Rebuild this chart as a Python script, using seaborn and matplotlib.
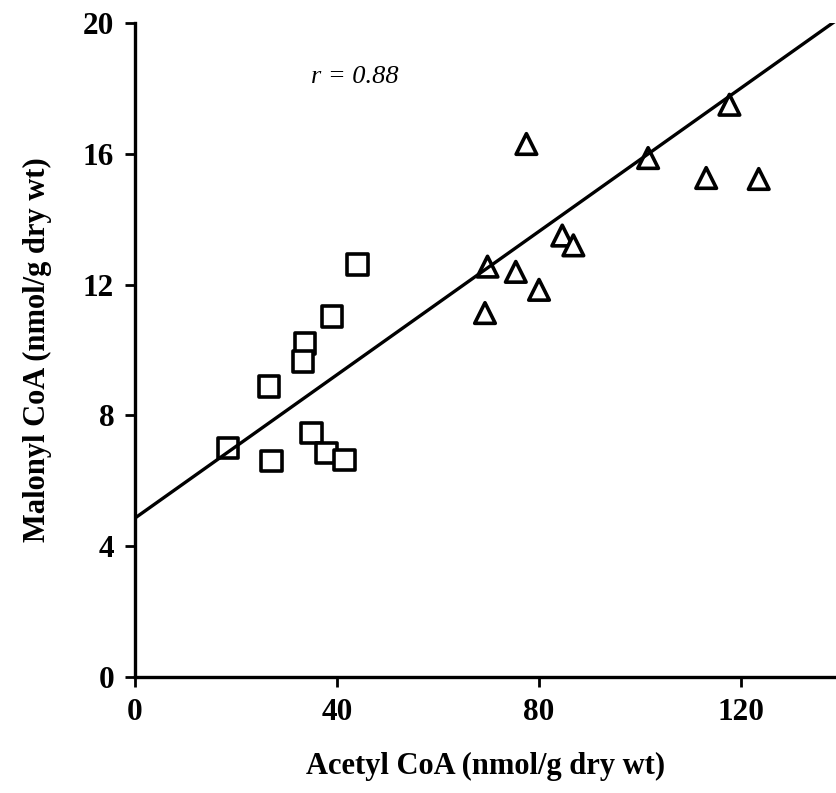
import numpy as np
import pandas as pd
import matplotlib
matplotlib.use("Agg")
import matplotlib.pyplot as plt
import seaborn as sns

# Acetyl CoA (x) and Malonyl CoA (y), nmol/g dry wt
square_x = [44.1, 39.0, 33.7, 33.3, 26.5, 18.4, 27.0, 34.9, 37.9, 41.5]
square_y = [12.62, 11.03, 10.19, 9.64, 8.88, 7.00, 6.60, 7.46, 6.85, 6.64]

triangle_x = [77.5, 101.6, 117.7, 113.1, 123.5, 84.6, 86.8, 69.8, 75.4, 80.0, 69.3]
triangle_y = [16.30, 15.87, 17.50, 15.26, 15.23, 13.50, 13.20, 12.55, 12.39, 11.84, 11.13]

# Fitted regression line
fit_intercept = 4.86
fit_slope = 0.1096
fit_x = [0, 139]

x_ticks = [0, 40, 80, 120]
y_ticks = [0, 4, 8, 12, 16, 20]

sns.set_style("ticks")
plt.rcParams["font.family"] = ["Liberation Serif", "DejaVu Serif"]
plt.rcParams.update({
    "text.color": "black",
    "axes.labelcolor": "black",
    "axes.edgecolor": "black",
    "xtick.color": "black",
    "ytick.color": "black",
})

df = pd.DataFrame({
    "acetyl": square_x + triangle_x,
    "malonyl": square_y + triangle_y,
    "group": ["square"] * len(square_x) + ["triangle"] * len(triangle_x),
})

fig = plt.figure(figsize=(8.37, 7.93), dpi=100)
ax = fig.add_axes([135 / 837, 116 / 793, 702 / 837, 654 / 793])

sns.scatterplot(data=df, x="acetyl", y="malonyl", style="group",
                markers={"square": "s", "triangle": "^"},
                s=220, facecolor="white", edgecolor="black",
                linewidth=2.6, legend=False, ax=ax, zorder=2)

line_y = [fit_intercept + fit_slope * v for v in fit_x]
ax.plot(fit_x, line_y, color="black", linewidth=2.4, zorder=3, solid_capstyle="butt")

ax.set_xlim(0, 139)
ax.set_ylim(0, 20)
ax.set_xticks(x_ticks)
ax.set_yticks(y_ticks)

for side in ["top", "right"]:
    ax.spines[side].set_visible(False)
for side in ["left", "bottom"]:
    ax.spines[side].set_linewidth(2.4)
    ax.spines[side].set_color("black")

ax.tick_params(axis="both", direction="out", length=7, width=2, labelsize=22.5, pad=8,
               colors="black")
for lab in ax.get_xticklabels() + ax.get_yticklabels():
    lab.set_fontweight("bold")

ax.set_xlabel("Acetyl CoA (nmol/g dry wt)", fontsize=22, fontweight="bold", labelpad=18)
ax.set_ylabel("Malonyl CoA (nmol/g dry wt)", fontsize=22, fontweight="bold", labelpad=22)

ax.text(43.5, 18.35, "r = 0.88", fontsize=19, style="italic", ha="center", va="center")

fig.savefig("out.png", dpi=100, facecolor="white")
